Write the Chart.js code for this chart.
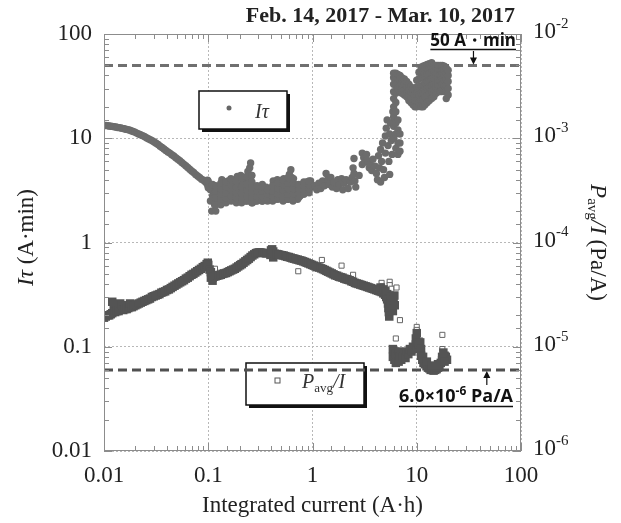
<!DOCTYPE html>
<html>
<head>
<meta charset="utf-8">
<script src="https://cdn.jsdelivr.net/npm/chart.js@4.4.1/dist/chart.umd.min.js"></script>
<style>
  html, body { margin: 0; padding: 0; background: #fff; }
  #wrap { width: 621px; height: 523px; }
</style>
</head>
<body>
<div id="wrap"><canvas id="chart" width="621" height="523"></canvas></div>
<script>
// --- data ---
const xTickVals = [0.01, 0.1, 1, 10, 100];
const xTickLabels = ['0.01', '0.1', '1', '10', '100'];
const leftTickVals = [0.01, 0.1, 1, 10, 100];
const leftTickLabels = ['0.01', '0.1', '1', '10', '100'];
const rightTickVals = [1e-6, 1e-5, 1e-4, 1e-3, 1e-2];
const rightTickExps = ['-6', '-5', '-4', '-3', '-2'];

const itauLimit = 50;      // A·min, left axis
const pavgLimit = 6.0e-6;  // Pa/A, right axis

// I*tau (A·min) vs integrated current (A·h)
const itauPts = [
  [0.0100,13.3],[0.0104,13.25],[0.0108,13.2],[0.0112,13.1],[0.0116,13.05],[0.0120,13.0],[0.0125,12.9],[0.0130,12.8],
  [0.0135,12.7],[0.0140,12.65],[0.0145,12.55],[0.0150,12.45],[0.0156,12.35],[0.0162,12.2],[0.0168,12.1],[0.0175,12.0],
  [0.0182,11.8],[0.0190,11.6],[0.0198,11.45],[0.0206,11.2],[0.0215,11.0],[0.0224,10.8],[0.0234,10.6],[0.0244,10.4],
  [0.0255,10.1],[0.0266,9.9],[0.0278,9.7],[0.0290,9.45],[0.0303,9.2],[0.0316,8.95],[0.0330,8.7],[0.0345,8.4],
  [0.0360,8.15],[0.0376,7.9],[0.0392,7.65],[0.0410,7.4],[0.0428,7.2],[0.0447,6.95],[0.0467,6.75],[0.0488,6.5],
  [0.0510,6.3],[0.0533,6.1],[0.0557,5.85],[0.0582,5.65],[0.0608,5.45],[0.0635,5.25],[0.0663,5.05],[0.0693,4.85],
  [0.0724,4.7],[0.0756,4.5],[0.0790,4.35],[0.0825,4.2],[0.0862,4.05],[0.0900,3.95],[0.0940,3.8],[0.0970,3.7],
  [0.0990,3.55],[0.1000,3.35],[0.1000,3.85],[0.0985,3.95],
  [0.105,3.2],[0.105,2.5],[0.108,2.0],[0.11,3.6],[0.11,2.8],[0.115,3.0],[0.115,2.3],[0.12,3.4],[0.12,2.6],[0.125,3.1],
  [0.13,3.5],[0.13,2.7],[0.135,4.0],[0.135,3.0],[0.14,3.3],[0.14,2.6],[0.145,3.6],[0.15,3.0],[0.15,2.5],[0.155,3.9],
  [0.16,3.2],[0.16,2.6],[0.165,4.1],[0.17,3.4],[0.17,2.7],[0.175,3.0],[0.18,3.8],[0.18,2.6],[0.185,3.2],[0.19,4.3],
  [0.19,2.9],[0.195,2.5],[0.2,3.5],[0.205,4.4],[0.21,3.0],[0.21,2.5],[0.215,3.8],[0.22,2.8],[0.225,3.3],[0.23,4.1],
  [0.23,2.5],[0.235,3.0],[0.24,4.8],[0.24,3.6],[0.245,2.7],[0.25,5.2],[0.25,4.0],[0.25,3.2],[0.25,2.5],[0.255,5.8],
  [0.26,4.4],[0.26,2.9],[0.265,2.4],[0.27,3.5],[0.275,2.6],[0.28,3.2],[0.285,2.5],[0.29,3.0],[0.3,2.6],[0.31,3.3],
  [0.32,2.8],[0.33,3.6],[0.33,2.5],[0.34,3.1],[0.35,2.6],[0.36,3.4],[0.37,2.5],[0.38,2.9],[0.39,2.6],[0.4,3.3],
  [0.41,2.8],[0.42,3.9],[0.43,3.0],[0.44,2.6],[0.45,3.5],[0.46,4.0],[0.47,2.9],[0.48,3.3],[0.5,2.7],[0.52,3.6],
  [0.53,4.1],[0.55,3.1],[0.57,2.6],[0.58,3.4],[0.6,4.5],[0.61,3.7],[0.62,5.0],[0.63,4.2],[0.64,2.9],[0.65,2.5],
  [0.66,3.4],[0.68,2.7],[0.7,3.2],[0.72,2.6],[0.74,3.4],[0.76,2.8],[0.78,3.1],[0.8,3.6],[0.82,3.0],[0.85,3.3],
  [0.88,3.8],[0.9,3.2],[0.93,3.5],[0.96,3.9],[1.0,3.4],
  // solid body of the 0.1-1 A·h band
  [0.118,2.0],[0.118,2.3],[0.118,2.7],[0.118,3.1],[0.118,3.5],
  [0.132,2.3],[0.132,2.6],[0.132,2.9],[0.132,3.3],[0.132,3.7],
  [0.148,2.4],[0.148,2.7],[0.148,3.0],[0.148,3.4],[0.148,3.8],
  [0.166,2.5],[0.166,2.8],[0.166,3.2],[0.166,3.6],[0.166,4.0],
  [0.186,2.4],[0.186,2.7],[0.186,3.0],[0.186,3.4],[0.186,3.9],
  [0.209,2.4],[0.209,2.7],[0.209,3.0],[0.209,3.4],[0.209,4.2],
  [0.234,2.5],[0.234,2.8],[0.234,3.2],[0.234,3.6],[0.234,4.3],
  [0.262,2.4],[0.262,2.7],[0.262,3.0],[0.262,3.4],[0.262,3.8],[0.262,4.4],
  [0.294,2.5],[0.294,2.8],[0.294,3.1],[0.294,3.5],
  [0.33,2.5],[0.33,2.8],[0.33,3.1],[0.33,3.4],
  [0.37,2.6],[0.37,2.9],[0.37,3.2],
  [0.415,2.5],[0.415,2.8],[0.415,3.1],[0.415,3.5],
  [0.466,2.6],[0.466,2.9],[0.466,3.3],[0.466,3.7],
  [0.522,2.5],[0.522,2.8],[0.522,3.2],[0.522,3.6],[0.522,4.0],
  [0.586,2.6],[0.586,2.9],[0.586,3.3],[0.586,3.7],[0.586,4.2],
  [0.657,2.6],[0.657,2.9],[0.657,3.3],[0.657,3.7],[0.657,4.1],
  [0.737,2.7],[0.737,3.0],[0.737,3.3],[0.737,3.6],
  [0.826,2.9],[0.826,3.2],[0.826,3.5],[0.826,3.8],
  [0.927,3.0],[0.927,3.3],[0.927,3.6],[0.927,3.9],
  [1.05,3.5],[1.1,3.2],[1.15,3.7],[1.2,3.3],[1.25,3.9],[1.3,3.5],[1.35,4.6],[1.4,4.0],[1.45,3.6],[1.5,4.2],
  [1.55,3.4],[1.6,3.8],[1.7,3.3],[1.75,4.0],[1.8,3.6],[1.9,4.1],[1.95,3.2],[2.0,3.7],[2.1,4.0],[2.2,3.3],
  [2.3,3.8],[2.4,4.2],[2.45,5.2],[2.5,6.4],[2.5,4.6],[2.55,3.9],[2.6,3.4],[2.8,4.4],[3.0,5.6],[3.0,7.2],
  [3.1,6.5],[3.2,5.9],[3.3,7.0],[3.4,6.1],[3.5,5.2],[3.6,5.6],[3.7,4.9],[3.8,6.3],[4.0,5.4],[4.1,4.6],
  [4.2,4.0],[4.3,6.8],[4.4,5.2],[4.5,3.8],[4.5,7.8],[4.6,6.0],[4.7,9.0],[4.8,5.0],[4.9,4.2],[5.0,10.5],
  [5.0,7.2],[5.1,12.5],[5.2,15.0],[5.3,8.5],[5.4,6.0],[5.5,11.0],[5.5,4.5],[5.6,14.0],[5.7,9.5],[5.8,7.0],
  [5.9,18.0],
  [6.0,10],[6.0,13],[6.0,16],[6.0,20],[6.0,24],[6.0,28],[6.0,33],[6.0,38],[6.0,42],
  [6.3,8],[6.3,11],[6.3,14],[6.3,18],[6.3,22],[6.3,27],[6.3,32],[6.3,37],[6.3,42],
  [6.6,7],[6.6,9],[6.6,12],[6.6,15],[6.6,30],[6.6,34],[6.6,38],[6.6,41],
  [6.9,7.5],[6.9,9],[6.9,11],[6.9,28],[6.9,32],[6.9,36],[6.9,40],
  [7.2,27],[7.2,30],[7.2,34],[7.2,38],[7.6,26],[7.6,29],[7.6,33],[7.6,37],
  [8.0,25],[8.0,28],[8.0,31],[8.0,35],[8.4,23],[8.4,26],[8.4,29],[8.4,33],
  [8.8,22],[8.8,25],[8.8,28],[8.8,31],[9.2,21],[9.2,24],[9.2,27],[9.2,30],
  [9.6,20],[9.6,23],[9.6,26],[9.6,29],[10.0,20],[10.0,23],[10.0,27],[10.0,31],[10.0,36],
  [10.5,22],[10.5,26],[10.5,31],[10.5,37],[10.5,43],
  [11.0,20],[11.0,23],[11.0,27],[11.0,32],[11.0,38],[11.0,44],[11.0,48],
  [11.5,20],[11.5,23],[11.5,27],[11.5,32],[11.5,38],[11.5,44],[11.5,49],
  [12.0,21],[12.0,25],[12.0,29],[12.0,34],[12.0,40],[12.0,46],[12.0,50],
  [12.6,22],[12.6,26],[12.6,30],[12.6,35],[12.6,41],[12.6,47],[12.6,51],
  [13.2,23],[13.2,27],[13.2,31],[13.2,36],[13.2,42],[13.2,48],[13.2,52],
  [13.9,24],[13.9,28],[13.9,32],[13.9,37],[13.9,43],[13.9,49],[13.9,53],
  [14.6,25],[14.6,29],[14.6,33],[14.6,38],[14.6,44],[14.6,50],
  [15.3,27],[15.3,31],[15.3,35],[15.3,40],[15.3,45],[15.3,50],
  [16.0,28],[16.0,32],[16.0,36],[16.0,41],[16.0,46],[16.0,50],
  [16.8,28],[16.8,32],[16.8,36],[16.8,41],[16.8,46],[16.8,50],
  [17.6,29],[17.6,33],[17.6,37],[17.6,42],[17.6,47],[17.6,50],
  [18.4,28],[18.4,32],[18.4,36],[18.4,41],[18.4,46],[18.4,49],
  [19.2,24],[19.2,28],[19.2,32],[19.2,37],[19.2,42],[19.2,47],
  [20.0,26],[20.0,30],[20.0,35],[20.0,40],[20.0,45]
];

// P_avg/I (Pa/A), dense part of the series
const pavgBandPts = [
  [0.0100,1.9e-5],[0.0104,1.95e-5],[0.0108,2.0e-5],[0.0112,2.0e-5],[0.0116,2.05e-5],[0.0120,2.1e-5],[0.0120,2.7e-5],
  [0.0124,2.5e-5],[0.0128,2.15e-5],[0.0133,2.2e-5],[0.0138,2.2e-5],[0.0143,2.6e-5],[0.0148,2.5e-5],[0.0153,2.25e-5],
  [0.0159,2.3e-5],[0.0165,2.3e-5],[0.0171,2.35e-5],[0.0178,2.4e-5],[0.0178,2.6e-5],[0.0185,2.4e-5],[0.0192,2.45e-5],
  [0.0200,2.5e-5],[0.0208,2.55e-5],[0.0216,2.6e-5],[0.0225,2.65e-5],[0.0234,2.7e-5],[0.0244,2.75e-5],[0.0254,2.8e-5],
  [0.0265,2.85e-5],[0.0276,2.9e-5],[0.0288,3.0e-5],[0.0300,3.05e-5],[0.0313,3.1e-5],[0.0326,3.15e-5],[0.0340,3.2e-5],
  [0.0355,3.3e-5],[0.0370,3.35e-5],[0.0386,3.4e-5],[0.0402,3.5e-5],[0.0419,3.55e-5],[0.0437,3.65e-5],[0.0455,3.75e-5],
  [0.0475,3.85e-5],[0.0495,3.95e-5],[0.0516,4.05e-5],[0.0538,4.15e-5],[0.0561,4.25e-5],[0.0585,4.35e-5],[0.0610,4.5e-5],
  [0.0636,4.6e-5],[0.0663,4.75e-5],[0.0691,4.9e-5],[0.0720,5.0e-5],[0.0751,5.15e-5],[0.0783,5.3e-5],[0.0816,5.45e-5],
  [0.0851,5.6e-5],[0.0887,5.8e-5],[0.0925,5.95e-5],[0.0965,6.2e-5],[0.0990,6.4e-5],[0.1000,6.1e-5],
  [0.103,5.5e-5],[0.106,4.6e-5],[0.106,5.2e-5],[0.110,4.6e-5],[0.110,4.3e-5],[0.114,4.7e-5],[0.118,4.75e-5],
  [0.122,4.8e-5],[0.127,4.85e-5],[0.132,4.9e-5],[0.137,5.0e-5],[0.142,5.05e-5],[0.148,5.1e-5],[0.154,5.2e-5],
  [0.160,5.3e-5],[0.166,5.4e-5],[0.173,5.5e-5],[0.180,5.6e-5],[0.187,5.75e-5],[0.194,5.9e-5],[0.202,6.05e-5],
  [0.210,6.2e-5],[0.218,6.4e-5],[0.227,6.6e-5],[0.236,6.8e-5],[0.245,7.0e-5],[0.255,7.25e-5],[0.265,7.5e-5],
  [0.276,7.7e-5],[0.287,7.9e-5],[0.298,8.0e-5],[0.310,8.05e-5],[0.322,8.0e-5],[0.335,7.95e-5],[0.348,7.9e-5],
  [0.362,7.85e-5],[0.395,7.6e-5],[0.400,8.4e-5],[0.410,8.6e-5],[0.420,7.2e-5],[0.420,8.2e-5],[0.435,7.8e-5],
  [0.452,7.75e-5],[0.470,7.7e-5],[0.489,7.6e-5],[0.508,7.55e-5],[0.528,7.5e-5],[0.549,7.4e-5],[0.571,7.3e-5],
  [0.594,7.25e-5],[0.618,7.15e-5],[0.643,7.05e-5],[0.668,7.0e-5],[0.695,6.9e-5],[0.723,6.85e-5],[0.752,6.75e-5],
  [0.782,6.7e-5],[0.813,6.6e-5],[0.846,6.5e-5],[0.880,6.4e-5],[0.915,6.3e-5],[0.952,6.2e-5],[0.990,6.1e-5],
  [1.03,6.0e-5],[1.07,5.9e-5],[1.11,5.8e-5],[1.16,5.75e-5],[1.21,5.65e-5],[1.26,5.55e-5],[1.31,5.45e-5],
  [1.36,5.35e-5],[1.41,5.25e-5],[1.47,5.15e-5],[1.53,5.05e-5],[1.59,4.95e-5],[1.65,4.85e-5],[1.72,4.8e-5],
  [1.79,4.7e-5],[1.86,4.65e-5],[1.94,4.6e-5],[2.02,4.5e-5],[2.10,4.45e-5],[2.18,4.4e-5],[2.27,4.35e-5],
  [2.36,4.25e-5],[2.45,4.2e-5],[2.55,4.1e-5],[2.65,4.05e-5],[2.76,4.0e-5],[2.87,3.95e-5],[2.98,3.9e-5],
  [3.10,3.85e-5],[3.23,3.8e-5],[3.36,3.75e-5],[3.49,3.7e-5],[3.63,3.65e-5],[3.78,3.6e-5],[3.93,3.55e-5],
  [4.09,3.5e-5],[4.25,3.45e-5],[4.42,3.4e-5],[4.60,3.35e-5],[4.78,3.25e-5],[4.97,3.15e-5],[5.1,3.0e-5],
  [4.5,3.7e-5],[4.8,3.55e-5],[5.0,3.4e-5],[5.2,3.2e-5],[5.3,2.9e-5],
  [5.2,2.85e-5],[5.3,2.6e-5],[5.35,2.35e-5],[5.4,2.15e-5],[5.45,1.95e-5],[5.5,2.4e-5],[5.6,2.7e-5],
  [5.7,3.0e-5],[5.8,2.6e-5],[5.9,2.2e-5],[6.0,2.8e-5],[6.1,3.1e-5],[6.15,2.5e-5],
  [5.9,0.95e-5],[5.9,0.8e-5],[6.1,0.75e-5],[6.1,0.9e-5],[6.3,0.7e-5],[6.3,0.85e-5],[6.5,0.8e-5],[6.7,0.72e-5],
  [6.7,0.9e-5],[6.9,0.8e-5],[7.1,0.75e-5],[7.1,0.88e-5],[7.4,0.8e-5],[7.6,0.85e-5],[7.8,0.78e-5],[8.0,0.9e-5],
  [8.3,0.85e-5],[8.6,0.95e-5],[8.9,0.9e-5],[9.2,1.0e-5],[9.5,0.95e-5],[9.8,1.05e-5],[9.8,1.2e-5],[10.0,1.0e-5],
  [10.0,1.35e-5],[10.2,1.1e-5],[10.5,1.05e-5],[10.8,1.1e-5],[11.0,0.95e-5],
  [11.0,0.82e-5],[11.3,0.75e-5],[11.6,0.7e-5],[12.0,0.68e-5],[12.4,0.65e-5],[12.8,0.63e-5],[13.2,0.62e-5],
  [13.6,0.6e-5],[14.0,0.6e-5],[14.5,0.59e-5],[15.0,0.6e-5],[15.5,0.61e-5],[16.0,0.63e-5],[16.5,0.66e-5],
  [17.0,0.7e-5],[17.5,0.74e-5],[18.0,0.78e-5],[18.5,0.82e-5],[19.0,0.8e-5],[19.5,0.75e-5],[11.5,0.8e-5],
  [12.5,0.72e-5],[14.0,0.66e-5],[16.0,0.68e-5],[17.5,0.8e-5],[18.5,0.72e-5],[18.0,0.88e-5]
];

// P_avg/I (Pa/A), isolated points (show as open squares)
const pavgOpenPts = [
  [0.116,5.6e-5],[0.125,4.9e-5],[0.2,6.3e-5],[0.73,5.3e-5],[1.23,6.8e-5],[1.9,6.0e-5],[2.45,4.9e-5],
  [4.6,4.1e-5],[4.65,3.8e-5],[5.5,4.2e-5],[5.5,3.9e-5],[5.7,3.6e-5],[6.4,3.7e-5],[6.9,1.8e-5],[6.3,1.2e-5],
  [10.0,1.55e-5],[10.0,1.45e-5],[9.9,1.3e-5],[10.8,1.15e-5],[17.6,1.3e-5],[17.6,0.95e-5],[6.4,0.7e-5]
];

// --- helpers ---
const SERIF = '"Liberation Serif", "Times New Roman", serif';
const toXY = pts => pts.map(p => ({ x: p[0], y: p[1] }));
const isDecade = v => Math.abs(Math.log10(v) - Math.round(Math.log10(v))) < 1e-6;
function labelFor(v, vals, labels) {
  for (let i = 0; i < vals.length; i++) {
    if (Math.abs(Math.log10(v) - Math.log10(vals[i])) < 1e-6) return labels[i];
  }
  return '';
}

// draws a row of text pieces with their own font and baseline shift
function drawParts(ctx, parts, x, y, align) {
  let total = 0;
  parts.forEach(p => { ctx.font = p.font; p.w = ctx.measureText(p.t).width; total += p.w; });
  let cx = align === 'center' ? x - total / 2 : (align === 'right' ? x - total : x);
  const start = cx;
  parts.forEach(p => {
    ctx.font = p.font;
    ctx.fillText(p.t, cx, y + (p.dy || 0));
    cx += p.w;
  });
  return { start: start, end: cx };
}

function legendBox(ctx, x, y, w, h) {
  ctx.save();
  ctx.fillStyle = '#111';
  ctx.fillRect(x + 3, y + 3, w, h);
  ctx.fillStyle = '#fff';
  ctx.fillRect(x, y, w, h);
  ctx.strokeStyle = '#111';
  ctx.lineWidth = 1.5;
  ctx.strokeRect(x, y, w, h);
  ctx.restore();
}

function arrow(ctx, x, y0, y1) {
  // shaft from y0 to y1, head at y1
  const dir = y1 > y0 ? 1 : -1;
  ctx.beginPath();
  ctx.moveTo(x, y0);
  ctx.lineTo(x, y1 - dir * 5);
  ctx.stroke();
  ctx.beginPath();
  ctx.moveTo(x, y1);
  ctx.lineTo(x - 3.5, y1 - dir * 7);
  ctx.lineTo(x + 3.5, y1 - dir * 7);
  ctx.closePath();
  ctx.fill();
}

const decorPlugin = {
  id: 'decor',
  beforeDatasetsDraw(chart) {
    const ctx = chart.ctx;
    const a = chart.chartArea;
    // legend: I tau
    legendBox(ctx, a.left + 95, a.top + 57, 88, 38);
    ctx.save();
    ctx.fillStyle = '#666';
    ctx.beginPath();
    ctx.arc(a.left + 125, a.top + 74, 2.5, 0, Math.PI * 2);
    ctx.fill();
    ctx.fillStyle = '#333';
    ctx.textBaseline = 'alphabetic';
    drawParts(ctx, [
      { t: 'Iτ', font: 'italic 20px ' + SERIF }
    ], a.left + 151, a.top + 84, 'left');
    ctx.restore();

    // legend: P_avg / I
    legendBox(ctx, a.left + 142, a.top + 329, 118, 42);
    ctx.save();
    ctx.strokeStyle = '#555';
    ctx.lineWidth = 1;
    ctx.strokeRect(a.left + 171, a.top + 344, 5, 5);
    ctx.fillStyle = '#333';
    drawParts(ctx, [
      { t: 'P', font: 'italic 20px ' + SERIF },
      { t: 'avg', font: '13px ' + SERIF, dy: 4 },
      { t: '/I', font: 'italic 20px ' + SERIF }
    ], a.left + 198, a.top + 354, 'left');
    ctx.restore();
  },
  afterDraw(chart) {
    const ctx = chart.ctx;
    const a = chart.chartArea;
    const xs = chart.scales.x, ys = chart.scales.y, y2 = chart.scales.y2;
    ctx.save();

    // inward tick marks on all four sides
    ctx.strokeStyle = '#8c8c8c';
    ctx.lineWidth = 1;
    ctx.beginPath();
    xs.ticks.forEach(t => {
      const px = Math.round(xs.getPixelForValue(t.value)) + 0.5;
      const len = isDecade(t.value) ? 8 : 5;
      ctx.moveTo(px, a.bottom); ctx.lineTo(px, a.bottom - len);
      ctx.moveTo(px, a.top); ctx.lineTo(px, a.top + len);
    });
    ys.ticks.forEach(t => {
      const py = Math.round(ys.getPixelForValue(t.value)) + 0.5;
      const len = isDecade(t.value) ? 8 : 5;
      ctx.moveTo(a.left, py); ctx.lineTo(a.left + len, py);
      ctx.moveTo(a.right, py); ctx.lineTo(a.right - len, py);
    });
    ctx.stroke();

    // frame
    ctx.strokeStyle = '#8c8c8c';
    ctx.strokeRect(a.left + 0.5, a.top + 0.5, a.right - a.left - 1, a.bottom - a.top - 1);

    ctx.fillStyle = '#222';
    ctx.textBaseline = 'middle';

    // right axis labels 10^n
    rightTickVals.forEach((v, i) => {
      const py = y2.getPixelForValue(v) - 2;
      drawParts(ctx, [
        { t: '10', font: '23px ' + SERIF },
        { t: rightTickExps[i], font: '15px ' + SERIF, dy: -8 }
      ], a.right + 12, py, 'left');
    });

    // left axis title
    ctx.save();
    ctx.translate(27, (a.top + a.bottom) / 2 - 5);
    ctx.rotate(-Math.PI / 2);
    drawParts(ctx, [
      { t: 'Iτ', font: 'italic 23px ' + SERIF },
      { t: ' (A·min)', font: '23px ' + SERIF }
    ], 0, 0, 'center');
    ctx.restore();

    // right axis title
    ctx.save();
    ctx.translate(597, (a.top + a.bottom) / 2);
    ctx.rotate(Math.PI / 2);
    drawParts(ctx, [
      { t: 'P', font: 'italic 23px ' + SERIF },
      { t: 'avg', font: '15px ' + SERIF, dy: 5 },
      { t: '/I', font: 'italic 23px ' + SERIF },
      { t: ' (Pa/A)', font: '23px ' + SERIF }
    ], 0, 0, 'center');
    ctx.restore();

    // period title
    ctx.textBaseline = 'alphabetic';
    ctx.fillStyle = '#222';
    ctx.font = 'bold 22px ' + SERIF;
    ctx.textAlign = 'right';
    ctx.fillText('Feb. 14, 2017 - Mar. 10, 2017', a.right - 6, 22);
    ctx.textAlign = 'left';

    // 50 A·min annotation
    ctx.fillStyle = '#111';
    ctx.strokeStyle = '#111';
    ctx.lineWidth = 1.5;
    const t1 = drawParts(ctx, [
      { t: '50 A・min', font: 'bold 17px "Open Sans", sans-serif' }
    ], a.right - 5, a.top + 12, 'right');
    ctx.beginPath();
    ctx.moveTo(t1.start, a.top + 15.5); ctx.lineTo(t1.end, a.top + 15.5);
    ctx.stroke();
    ctx.lineWidth = 1.2;
    const ax1 = xs.getPixelForValue(35);
    const ly1 = ys.getPixelForValue(itauLimit);
    arrow(ctx, ax1, a.top + 17, ly1 - 1);

    // 6.0x10^-6 Pa/A annotation
    ctx.lineWidth = 1.5;
    const t2 = drawParts(ctx, [
      { t: '6.0×10', font: 'bold 18px "Open Sans", sans-serif' },
      { t: '-6', font: 'bold 12px "Open Sans", sans-serif', dy: -7 },
      { t: ' Pa/A', font: 'bold 18px "Open Sans", sans-serif' }
    ], a.right - 8, a.top + 368, 'right');
    ctx.beginPath();
    ctx.moveTo(t2.start, a.top + 372.5); ctx.lineTo(t2.end, a.top + 372.5);
    ctx.stroke();
    ctx.lineWidth = 1.2;
    const ax2 = xs.getPixelForValue(47);
    const ly2 = y2.getPixelForValue(pavgLimit);
    arrow(ctx, ax2, a.top + 351, ly2 + 1);

    ctx.restore();
  }
};

const gridColor = c => {
  const v = c.tick && c.tick.value;
  if (!v || !isDecade(v)) return 'rgba(0,0,0,0)';
  return '#b8b8b8';
};

new Chart(document.getElementById('chart'), {
  type: 'scatter',
  data: {
    datasets: [
      {
        label: 'Iτ',
        data: toXY(itauPts),
        yAxisID: 'y',
        pointStyle: 'circle',
        pointRadius: 3.7,
        pointBackgroundColor: '#6c6c6c',
        pointBorderWidth: 0,
        order: 1
      },
      {
        label: 'Pavg/I',
        data: toXY(pavgBandPts),
        yAxisID: 'y2',
        pointStyle: 'rect',
        pointRadius: 6,
        pointBackgroundColor: '#545454',
        pointBorderColor: '#545454',
        pointBorderWidth: 0,
        order: 1
      },
      {
        label: 'Pavg/I open',
        data: toXY(pavgOpenPts),
        yAxisID: 'y2',
        pointStyle: 'rect',
        pointRadius: 3.6,
        pointBackgroundColor: '#fff',
        pointBorderColor: '#666',
        pointBorderWidth: 1,
        order: 1
      },
      {
        label: '50 A·min',
        data: [{ x: 0.01, y: itauLimit }, { x: 100, y: itauLimit }],
        yAxisID: 'y',
        showLine: true,
        pointRadius: 0,
        borderColor: '#707070',
        borderWidth: 3,
        borderDash: [9, 5],
        order: 2
      },
      {
        label: '6.0e-6 Pa/A',
        data: [{ x: 0.01, y: pavgLimit }, { x: 100, y: pavgLimit }],
        yAxisID: 'y2',
        showLine: true,
        pointRadius: 0,
        borderColor: '#505050',
        borderWidth: 3,
        borderDash: [9, 5],
        order: 2
      }
    ]
  },
  options: {
    responsive: false,
    animation: false,
    devicePixelRatio: 1,
    layout: { padding: { top: 34, left: 0, right: 0, bottom: 0 } },
    plugins: {
      legend: { display: false },
      tooltip: { enabled: false }
    },
    scales: {
      x: {
        type: 'logarithmic',
        min: 0.01,
        max: 100,
        afterFit: s => { s.height = 72; },
        grid: { color: gridColor, drawTicks: false, lineWidth: 1 },
        border: { display: false, dash: [2, 2] },
        ticks: {
          autoSkip: false,
          maxRotation: 0,
          padding: 11,
          color: '#222',
          font: { family: SERIF, size: 23 },
          callback: v => labelFor(v, xTickVals, xTickLabels)
        },
        title: {
          display: true,
          text: 'Integrated current (A·h)',
          color: '#222',
          font: { family: SERIF, size: 23 },
          padding: { top: 0, bottom: 3 }
        }
      },
      y: {
        type: 'logarithmic',
        position: 'left',
        min: 0.01,
        max: 100,
        afterFit: s => { s.width = 104; },
        grid: { color: gridColor, drawTicks: false, lineWidth: 1 },
        border: { display: false, dash: [2, 2] },
        ticks: {
          autoSkip: false,
          padding: 12,
          color: '#222',
          font: { family: SERIF, size: 23 },
          callback: v => labelFor(v, leftTickVals, leftTickLabels)
        }
      },
      y2: {
        type: 'logarithmic',
        position: 'right',
        min: 1e-6,
        max: 1e-2,
        afterFit: s => { s.width = 100; },
        grid: { drawOnChartArea: false, drawTicks: false },
        border: { display: false },
        ticks: { display: false }
      }
    }
  },
  plugins: [decorPlugin]
});
</script>
</body>
</html>
